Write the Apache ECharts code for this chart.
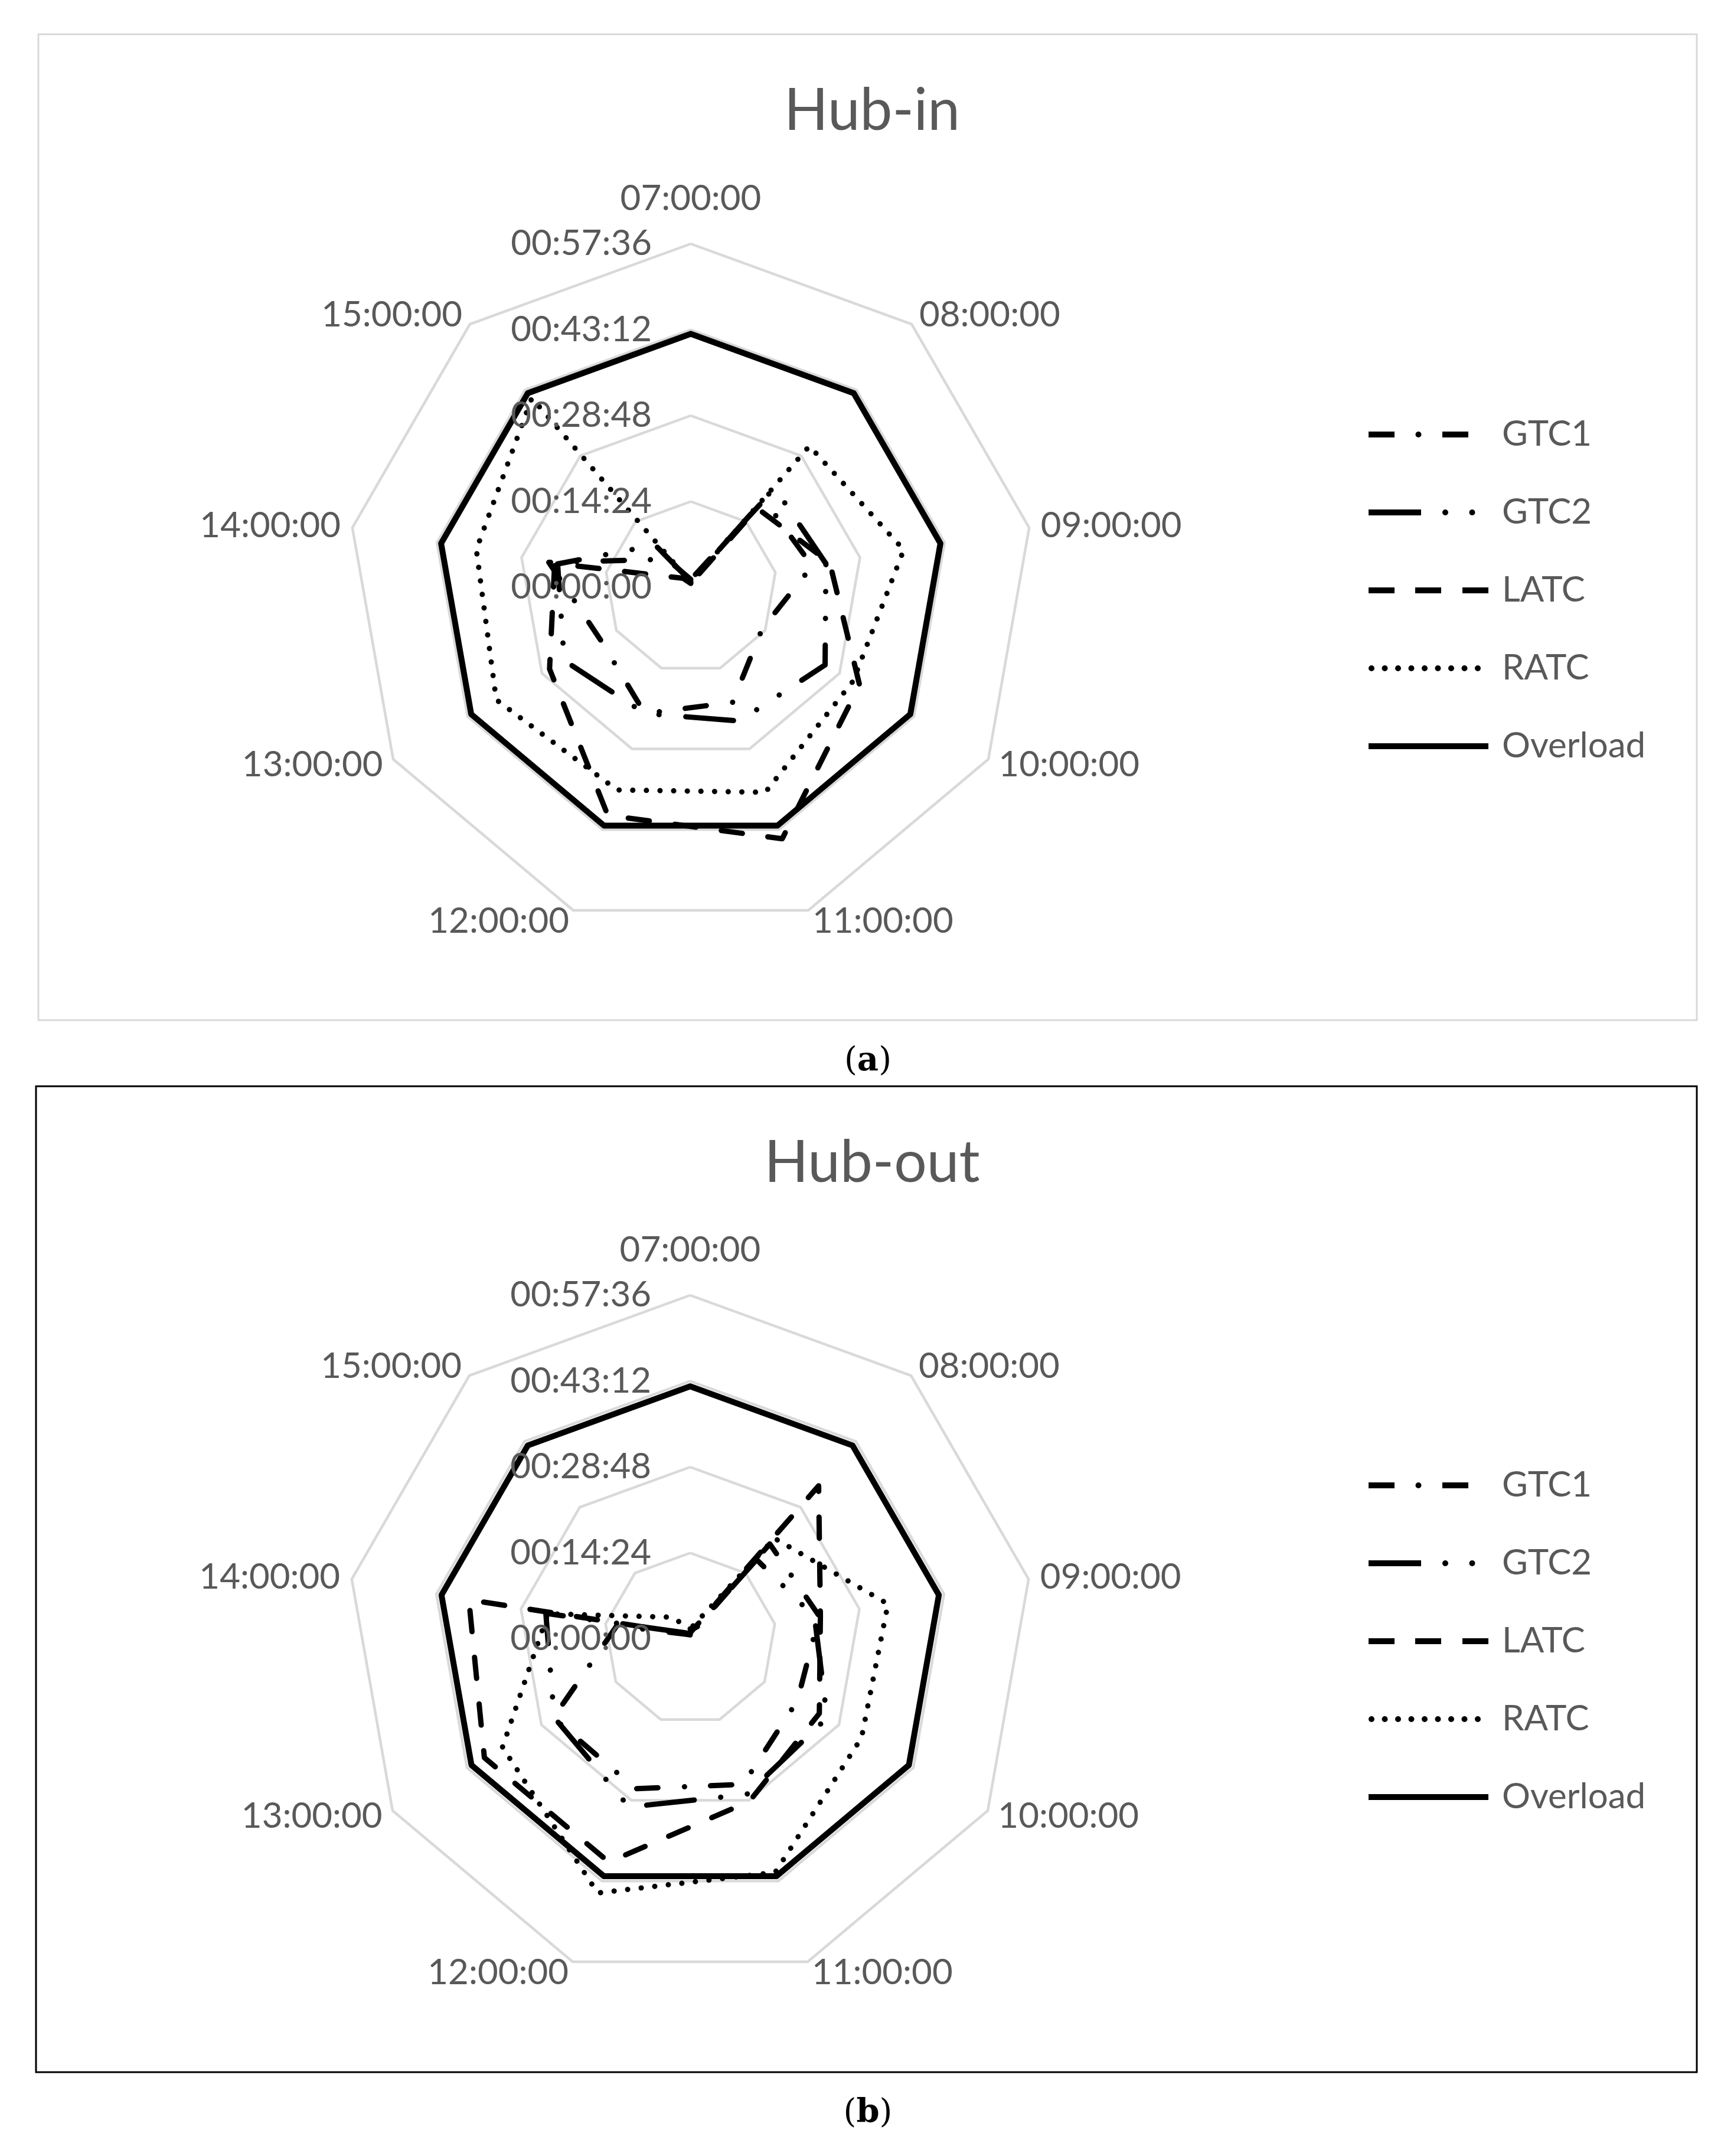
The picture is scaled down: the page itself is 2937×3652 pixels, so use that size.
<!DOCTYPE html>
<html>
<head>
<meta charset="utf-8">
<script src="https://cdn.jsdelivr.net/npm/echarts@6/dist/echarts.min.js"></script>
<style>
  html, body { margin: 0; padding: 0; background: #fff; }
  #main { width: 2937px; height: 3652px; }
</style>
</head>
<body>
<div id="main"></div>
<script>
// spokes, clockwise from the top
const hours = ['07:00:00', '08:00:00', '09:00:00', '10:00:00', '11:00:00',
               '12:00:00', '13:00:00', '14:00:00', '15:00:00'];
// radial ticks, seconds
const ticks = [0, 864, 1728, 2592, 3456];
const names = ['GTC1', 'GTC2', 'LATC', 'RATC', 'Overload'];

// Hub-in, seconds per hour slot
const gtc1In = [80, 1150, 1240, 830, 1230, 1350, 1050, 1450, 370];
const gtc2In = [60, 1310, 1380, 1560, 1430, 1350, 1470, 1360, 556];
const latcIn = [40, 1040, 1420, 1960, 2690, 2440, 1640, 1390, 120];
const ratcIn = [50, 1857, 2175, 1885, 2193, 2168, 2259, 2190, 2487];
const overloadIn = [2550, 2550, 2550, 2550, 2550, 2550, 2550, 2550, 2550];

// Hub-out
const gtc1Out = [40, 1246, 1318, 1245, 1558, 1604, 1590, 750, 60];
const gtc2Out = [50, 1040, 1270, 1590, 1665, 1800, 1580, 1474, 80];
const latcOut = [60, 2010, 1330, 1500, 1740, 2390, 2390, 2260, 70];
const ratcOut = [100, 1320, 2020, 1990, 2500, 2720, 2180, 1453, 284];
const overloadOut = [2540, 2540, 2540, 2540, 2540, 2540, 2540, 2540, 2540];

const R = 582;
const MAX = 3456;
const grey = '#595959';
const labelSize = 60;

// echarts radar runs counter-clockwise, the picture runs clockwise
const cw = arr => [arr[0]].concat(arr.slice(1).reverse());

const fmt = s => {
  const p = n => String(n).padStart(2, '0');
  return p(Math.floor(s / 3600)) + ':' + p(Math.floor(s / 60) % 60) + ':' + p(s % 60);
};

const dashes = [
  [36, 45, 0.1, 44],
  [81, 45, 0.1, 45.5, 0.1, 45.5],
  [36, 43.5],
  [0.1, 23],
  'solid'
];

// legend samples, drawn as filled paths in a 203 x 10 box
const rect = (a, b) => `M${a},0 L${b},0 L${b},10 L${a},10 Z `;
const dot = c => `M${c - 5},5 A5,5 0 1,0 ${c + 5},5 A5,5 0 1,0 ${c - 5},5 Z `;
const pin = 'M202.9,4.9 L203,4.9 L203,5.1 L202.9,5.1 Z';
const icons = [
  'path://' + rect(0, 44) + dot(84.5) + rect(125, 169) + pin,
  'path://' + rect(0, 89) + dot(130) + dot(175.5) + pin,
  'path://' + rect(0, 44) + rect(79, 123) + rect(159, 203),
  'path://' + [5, 27.5, 50, 72.5, 95, 117.5, 140, 162.5, 185].map(dot).join('') + pin,
  'path://' + rect(0, 203)
];

const panels = [
  { title: 'Hub-in', center: [1170, 995], titleTop: 134, legendTop: 701,
    values: [gtc1In, gtc2In, latcIn, ratcIn, overloadIn] },
  { title: 'Hub-out', center: [1169, 2776], titleTop: 1916, legendTop: 2481,
    values: [gtc1Out, gtc2Out, latcOut, ratcOut, overloadOut] }
];

const chart = echarts.init(document.getElementById('main'));

const graphic = [
  { type: 'rect', shape: { x: 65, y: 58, width: 2809, height: 1670 },
    style: { fill: 'none', stroke: '#d9d9d9', lineWidth: 3 } },
  { type: 'rect', shape: { x: 61, y: 1840, width: 2813, height: 1670 },
    style: { fill: 'none', stroke: '#000', lineWidth: 3 } }
];
['a', 'b'].forEach((c, i) => {
  graphic.push({
    type: 'text', x: 1470, y: i ? 3580 : 1798, z: 20,
    style: {
      text: '({b|' + c + '})', fill: '#000', fontSize: 56, fontFamily: 'DejaVu Serif',
      align: 'center', verticalAlign: 'middle',
      rich: { b: { fontWeight: 'bold', fontSize: 56, fontFamily: 'DejaVu Serif', fill: '#000' } }
    }
  });
});
panels.forEach(p => {
  ticks.forEach(t => {
    graphic.push({
      type: 'text', x: p.center[0] - 66, y: p.center[1] - t / MAX * R, z: 20,
      style: { text: fmt(t), fill: grey, fontSize: labelSize, fontFamily: 'Lato',
               align: 'right', verticalAlign: 'middle' }
    });
  });
});

const option = {
  animation: false,
  backgroundColor: '#fff',
  title: panels.map(p => ({
    text: p.title, left: 1472, top: p.titleTop, textAlign: 'center',
    textStyle: { fontSize: 98, fontWeight: 'normal', color: grey, fontFamily: 'Lato' }
  })),
  legend: panels.map(p => ({
    orient: 'vertical', left: 2313, top: p.legendTop,
    itemWidth: 203, itemHeight: 10, itemGap: 72, selectedMode: false,
    data: names.map((n, k) => ({ name: n, icon: icons[k] })),
    itemStyle: { borderWidth: 0 },
    textStyle: { color: grey, fontSize: labelSize, fontFamily: 'Lato', lineHeight: 60, padding: [0, 0, 0, 18] }
  })),
  radar: panels.map(p => ({
    center: p.center,
    radius: R,
    startAngle: 90,
    splitNumber: 4,
    shape: 'polygon',
    indicator: cw(hours).map(h => ({ name: h, min: 0, max: MAX })),
    nameGap: 20,
    axisName: {
      color: grey, fontSize: labelSize, fontFamily: 'Lato',
      formatter: name => name === hours[0] ? '{t|' + name + '}' : name,
      rich: { t: { color: grey, fontSize: labelSize, fontFamily: 'Lato', padding: [0, 0, 26, 0] } }
    },
    splitLine: { lineStyle: { color: '#d9d9d9', width: 4.5 } },
    splitArea: { show: false },
    axisLine: { show: false },
    axisTick: { show: false },
    axisLabel: { show: false }
  })),
  graphic: graphic,
  series: panels.map((p, i) => ({
    type: 'radar',
    radarIndex: i,
    symbol: 'none',
    silent: true,
    color: '#000',
    data: names.map((n, k) => ({
      name: n,
      value: cw(p.values[k]),
      symbol: 'none',
      itemStyle: { color: '#000' },
      lineStyle: { color: '#000', width: k === 4 ? 10 : 9, type: dashes[k], cap: 'round', join: 'round' },
      areaStyle: { opacity: 0 }
    }))
  }))
};

chart.setOption(option);
</script>
</body>
</html>
